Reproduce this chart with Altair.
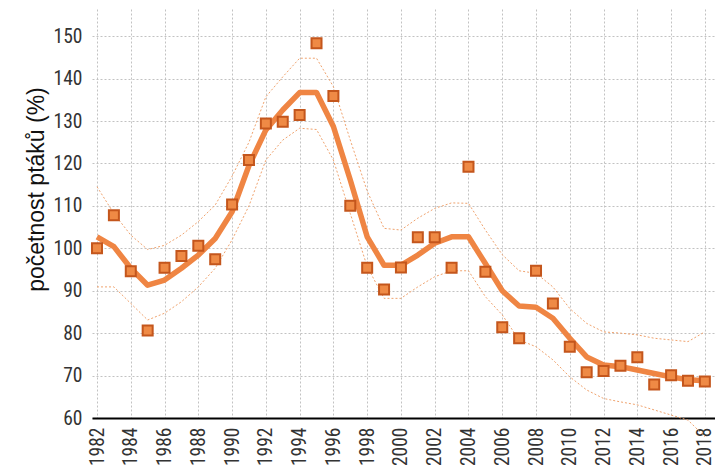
import altair as alt
import pandas as pd

years = list(range(1982, 2019))
index_vals = [100.0, 107.8, 94.6, 80.6, 95.4, 98.2, 100.6, 97.4, 110.3, 120.8,
              129.4, 129.8, 131.4, 148.3, 135.9, 110.0, 95.4, 90.3, 95.5, 102.6,
              102.6, 95.4, 119.2, 94.5, 81.4, 78.8, 94.7, 87.0, 76.8, 70.8,
              71.1, 72.3, 74.3, 67.9, 70.1, 68.8, 68.6]
trend = [102.7, 100.4, 95.3, 91.3, 92.5, 95.3, 98.4, 102.3, 108.6, 119.5,
         127.9, 132.6, 136.7, 136.7, 128.7, 116.1, 102.7, 96.0, 96.0, 98.4,
         101.2, 102.7, 102.7, 96.4, 90.0, 86.4, 86.1, 83.5, 78.8, 74.4,
         72.5, 72.1, 71.3, 70.5, 69.7, 69.0, 68.8]
upper = [114.5, 108.2, 103.1, 99.7, 100.7, 103.1, 106.3, 110.2, 117.0, 125.0,
         135.7, 140.4, 144.8, 144.8, 138.1, 125.5, 113.5, 104.7, 104.3, 107.1,
         109.4, 110.7, 110.6, 104.3, 98.5, 94.7, 94.1, 90.9, 85.8, 82.3,
         80.3, 80.0, 79.6, 78.8, 78.4, 78.0, 80.3]
lower = [90.9, 90.9, 87.0, 83.1, 84.7, 87.4, 90.9, 95.3, 102.0, 110.0,
         120.8, 125.5, 128.3, 128.0, 120.8, 108.2, 95.7, 88.2, 88.2, 90.9,
         93.3, 94.7, 94.7, 88.6, 84.3, 78.4, 76.8, 73.7, 69.7, 66.6,
         64.6, 63.8, 63.1, 61.9, 60.7, 59.5, 55.6]
x_ticks = list(range(1982, 2019, 2))
y_ticks = [60, 70, 80, 90, 100, 110, 120, 130, 140, 150]

df = pd.DataFrame({"year": years, "index": index_vals, "trend": trend,
                   "upper": upper, "lower": lower})

LABEL_FONT = "Liberation Sans Narrow, Arial Narrow, Roboto Condensed, Liberation Sans, sans-serif"

x = alt.X("year:Q",
          scale=alt.Scale(domain=[1981.703, 2018.6], nice=False, zero=False),
          axis=alt.Axis(values=x_ticks, format="d", labelAngle=-90, title=None,
                        ticks=False, labelPadding=9, domainColor="#000000",
                        domainWidth=2, grid=True, gridColor="#c2c2c2",
                        gridDash=[2, 2], gridWidth=1, labelFontSize=19.5,
                        labelFont=LABEL_FONT, labelColor="#333333",
                        labelOverlap=False))

y_scale = alt.Scale(domain=[60, 156.4], nice=False, zero=False)
y_axis = alt.Axis(values=y_ticks, title="početnost ptáků (%)", ticks=False,
                  domain=False, labelPadding=10, grid=True, gridColor="#c2c2c2",
                  gridDash=[2, 2], gridWidth=1, labelFontSize=19.5,
                  labelFont=LABEL_FONT, labelColor="#333333",
                  titleFont="Liberation Sans, Arial, sans-serif",
                  titleFontSize=23, titleFontWeight="normal", titleColor="#111111",
                  titleAngle=-90, titleBaseline="middle", titleX=-56, titleY=180,
                  titleAlign="center", labelOverlap=False)

base = alt.Chart(df)

upper_line = base.mark_line(color="#f0a36e", strokeWidth=1, strokeDash=[2, 2]).encode(
    x=x, y=alt.Y("upper:Q", scale=y_scale, axis=y_axis))
lower_line = base.mark_line(color="#f0a36e", strokeWidth=1, strokeDash=[2, 2]).encode(
    x=x, y=alt.Y("lower:Q", scale=y_scale, axis=y_axis))
trend_line = base.mark_line(color="#ef8543", strokeWidth=5.5, strokeJoin="round").encode(
    x=x, y=alt.Y("trend:Q", scale=y_scale, axis=y_axis))
points = base.mark_point(shape="square", filled=True, size=100, fill="#ef8a45",
                         stroke="#c4561c", strokeWidth=2, opacity=1).encode(
    x=x, y=alt.Y("index:Q", scale=y_scale, axis=y_axis))

chart = alt.layer(upper_line, lower_line, trend_line, points).properties(
    width=623, height=409,
    autosize=alt.AutoSizeParams(type="none"),
    padding={"left": 84, "top": 1, "right": 0, "bottom": 50},
).configure_view(stroke=None)

chart.save("out.html", embed_options={"renderer": "svg", "actions": False})
